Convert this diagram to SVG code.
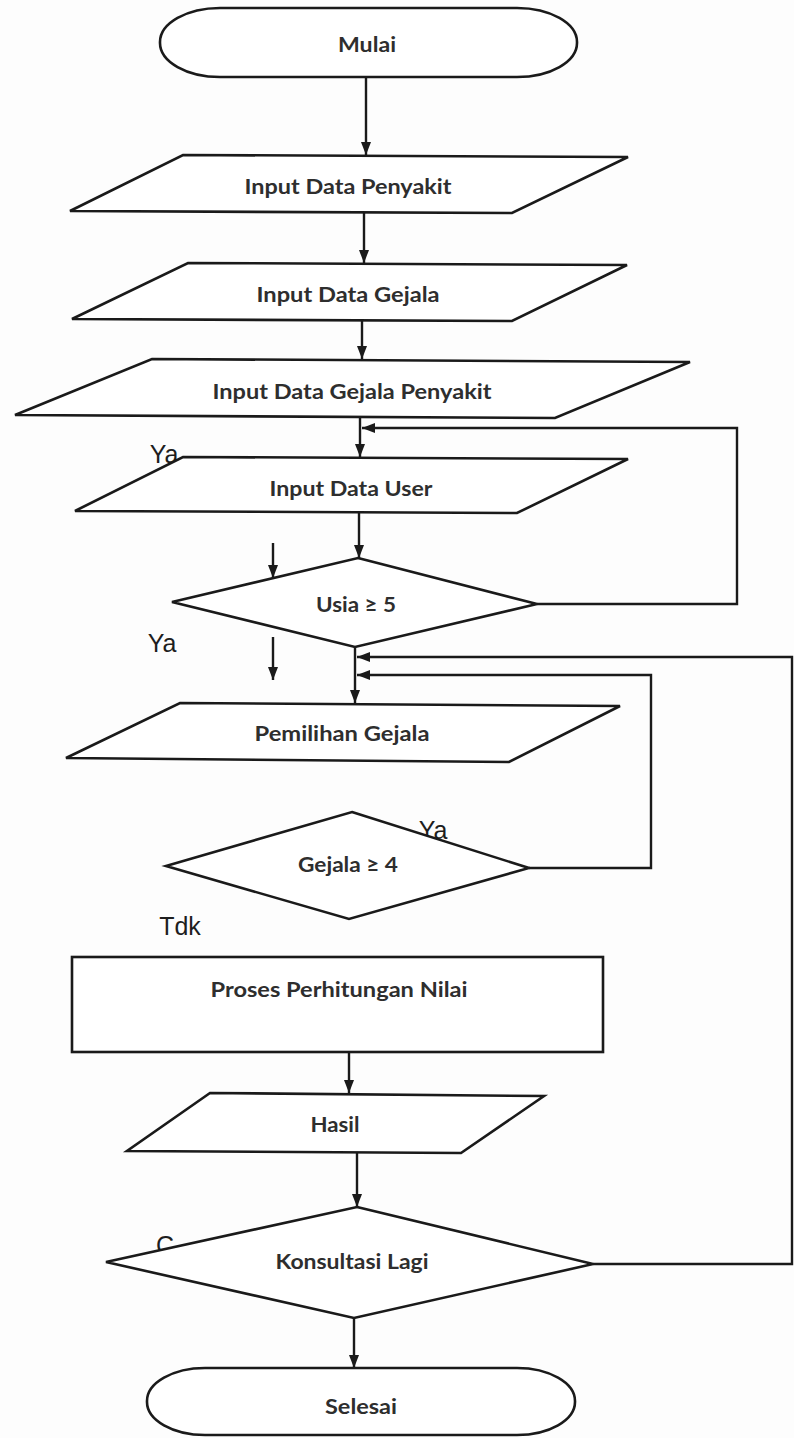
<svg xmlns="http://www.w3.org/2000/svg" width="794" height="1438" viewBox="0 0 794 1438">
  <defs>
    <marker id="arrow" viewBox="0 0 13 10" refX="13" refY="5" markerWidth="13" markerHeight="10" markerUnits="userSpaceOnUse" orient="auto">
      <path d="M0,0 L13,5 L0,10 z" fill="#1a1a1a"/>
    </marker>
    <style>
      .shape { fill: #ffffff; stroke: #1a1a1a; stroke-width: 2.6; stroke-linejoin: miter; }
      .flow { fill: none; stroke: #1a1a1a; stroke-width: 2.4; marker-end: url(#arrow); }
      .label { font-family: Lato, "Liberation Sans", sans-serif; font-size: 21px; font-weight: bold; fill: #2e2e2e; text-anchor: middle; dominant-baseline: central; }
      .tag { font-family: "Liberation Sans", Arial, sans-serif; font-size: 25px; fill: #1e1e1e; text-anchor: middle; dominant-baseline: central; }
    </style>
  </defs>

  <rect width="794" height="1438" fill="#fdfdfd"/>

  <!-- branch labels (drawn first so shapes sit on top) -->
  <g id="tags">
    <text class="tag" x="164" y="454">Ya</text>
    <text class="tag" x="162" y="643">Ya</text>
    <text class="tag" x="433" y="830">Ya</text>
    <text class="tag" x="180" y="926">Tdk</text>
    <text class="tag" x="165" y="1245">C</text>
  </g>

  <!-- connectors -->
  <g id="connectors">
    <line class="flow" x1="366" y1="77" x2="366" y2="155"/>
    <line class="flow" x1="364" y1="212" x2="364" y2="263"/>
    <line class="flow" x1="362" y1="320" x2="362" y2="359"/>
    <line class="flow" x1="360" y1="417" x2="360" y2="457"/>
    <line class="flow" x1="359" y1="512" x2="359" y2="558"/>
    <line class="flow" x1="355" y1="647" x2="355" y2="703"/>
    <line class="flow" x1="349" y1="1052" x2="349" y2="1093"/>
    <line class="flow" x1="357" y1="1153" x2="357" y2="1207"/>
    <line class="flow" x1="354" y1="1318" x2="354" y2="1368"/>
    <!-- Usia >= 5 back to Input Data User -->
    <polyline class="flow" points="537,604 737,604 737,428 362,428"/>
    <!-- Gejala >= 4 back to Pemilihan Gejala -->
    <polyline class="flow" points="529,868 651,868 651,675 357,675"/>
    <!-- Konsultasi Lagi back to Pemilihan Gejala -->
    <polyline class="flow" points="593,1264 792,1264 792,657 357,657"/>
    <!-- loose arrows on the left -->
    <line class="flow" x1="273" y1="543" x2="273" y2="578"/>
    <line class="flow" x1="273" y1="637" x2="273" y2="680"/>
  </g>

  <g id="mulai">
    <rect class="shape" x="160" y="8" width="417" height="69" rx="60" ry="34"/>
    <text class="label" x="367" y="43" textLength="58" lengthAdjust="spacingAndGlyphs">Mulai</text>
  </g>

  <g id="input-penyakit">
    <polygon class="shape" points="183,155 628,157 512,213 70,211"/>
    <text class="label" x="348" y="185" textLength="207" lengthAdjust="spacingAndGlyphs">Input Data Penyakit</text>
  </g>

  <g id="input-gejala">
    <polygon class="shape" points="188,263 627,265 512,321 72,319"/>
    <text class="label" x="348" y="293" textLength="183" lengthAdjust="spacingAndGlyphs">Input Data Gejala</text>
  </g>

  <g id="input-gejala-penyakit">
    <polygon class="shape" points="152,359 690,362 555,418 15,415"/>
    <text class="label" x="352" y="390" textLength="279" lengthAdjust="spacingAndGlyphs">Input Data Gejala Penyakit</text>
  </g>

  <g id="input-user">
    <polygon class="shape" points="183,457 628,459 517,513 75,511"/>
    <text class="label" x="351" y="487" textLength="163" lengthAdjust="spacingAndGlyphs">Input Data User</text>
  </g>

  <g id="cek-usia">
    <polygon class="shape" points="358,558 537,604 355,647 172,602"/>
    <text class="label" x="356" y="603" textLength="80" lengthAdjust="spacingAndGlyphs">Usia ≥ 5</text>
  </g>

  <g id="pemilihan-gejala">
    <polygon class="shape" points="180,703 620,706 509,762 66,758"/>
    <text class="label" x="342" y="732" textLength="175" lengthAdjust="spacingAndGlyphs">Pemilihan Gejala</text>
  </g>

  <g id="cek-gejala">
    <polygon class="shape" points="352,812 529,868 349,919 166,866"/>
    <text class="label" x="348" y="863" textLength="100" lengthAdjust="spacingAndGlyphs">Gejala ≥ 4</text>
  </g>

  <g id="proses-perhitungan">
    <rect class="shape" x="72" y="957" width="531" height="95"/>
    <text class="label" x="339" y="988" textLength="257" lengthAdjust="spacingAndGlyphs">Proses Perhitungan Nilai</text>
  </g>

  <g id="hasil">
    <polygon class="shape" points="210,1093 544,1096 461,1153 127,1151"/>
    <text class="label" x="335" y="1123" textLength="49" lengthAdjust="spacingAndGlyphs">Hasil</text>
  </g>

  <g id="konsultasi-lagi">
    <polygon class="shape" points="357,1207 593,1264 354,1318 106,1262"/>
    <text class="label" x="352" y="1260" textLength="153" lengthAdjust="spacingAndGlyphs">Konsultasi Lagi</text>
  </g>

  <g id="selesai">
    <rect class="shape" x="147" y="1368" width="428" height="67" rx="58" ry="33"/>
    <text class="label" x="361" y="1405" textLength="72" lengthAdjust="spacingAndGlyphs">Selesai</text>
  </g>
</svg>
